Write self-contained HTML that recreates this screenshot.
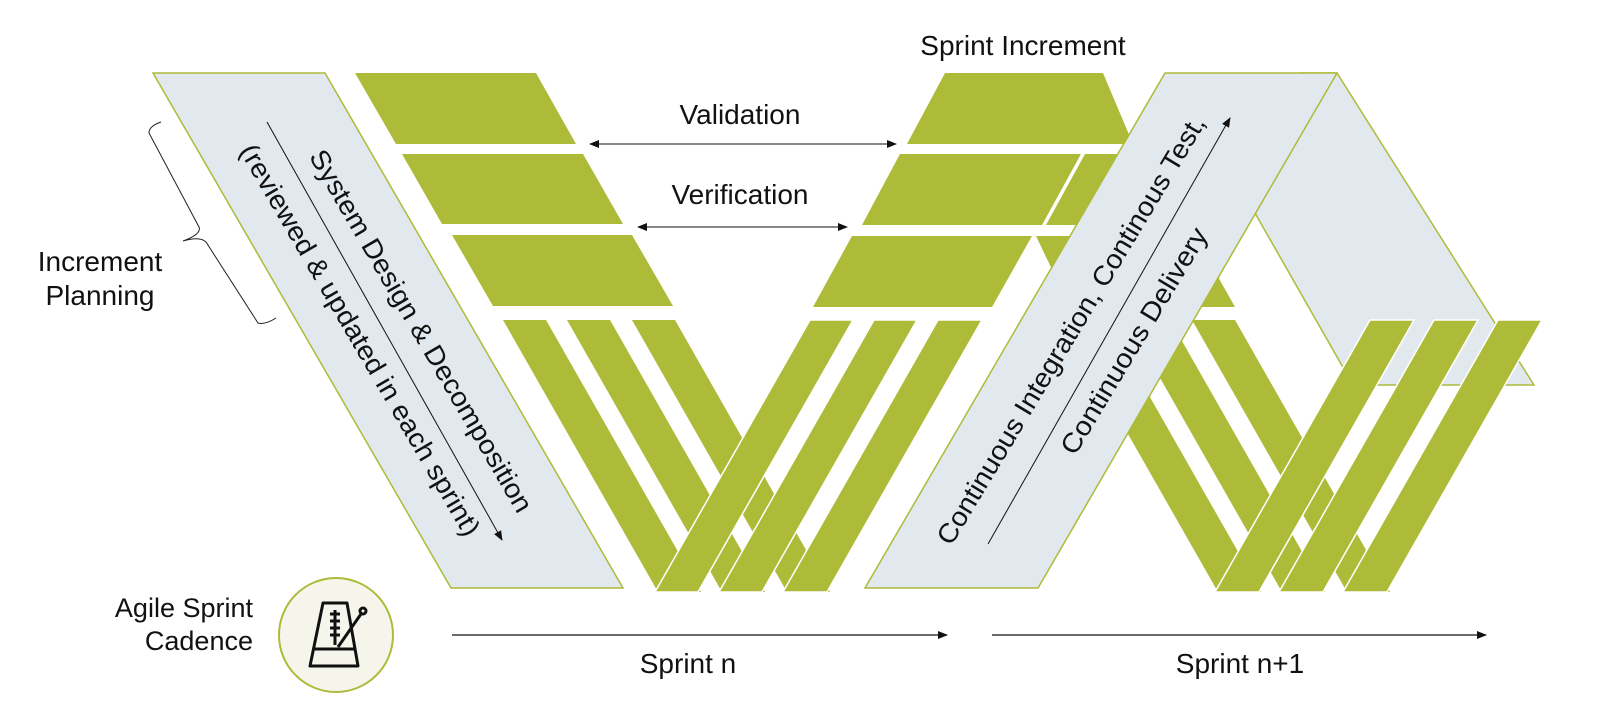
<!DOCTYPE html>
<html><head><meta charset="utf-8"><style>
html,body{margin:0;padding:0;background:#fff;}
svg{display:block;}
text{font-family:"Liberation Sans",sans-serif;fill:#111;}
</style></head><body>
<svg width="1600" height="711" viewBox="0 0 1600 711" xmlns="http://www.w3.org/2000/svg">
<defs>
<marker id="ah" markerWidth="10" markerHeight="8" refX="9" refY="4" orient="auto" markerUnits="userSpaceOnUse"><path d="M0,0 L10,4 L0,8 Z" fill="#111"/></marker>
<marker id="ahs" markerWidth="10" markerHeight="8" refX="1" refY="4" orient="auto" markerUnits="userSpaceOnUse"><path d="M10,0 L0,4 L10,8 Z" fill="#111"/></marker>
</defs>
<g fill="#adbb38">
<polygon points="355,73 536,73 576,144 396,144"/>
<polygon points="402,154 583,154 623,224 442,224"/>
<polygon points="452,235 632,235 673,306 493,306"/>
<polygon points="945,73 1103,73 1133,144 907,144"/>
<polygon points="900,154 1081,154 1042,225 862,225"/>
<polygon points="1085,154 1130,154 1120,225 1046,225"/>
<polygon points="852,236 1032,236 992,307 813,307"/>
<polygon points="1036,236 1195,236 1235,307 1070,307"/>
<polygon points="503,320 546,320 701,592 658,592"/>
<polygon points="567,320 610,320 765,592 722,592"/>
<polygon points="632,320 675,320 830,592 787,592"/>
<polygon points="1063,320 1106,320 1261,592 1218,592"/>
<polygon points="1127,320 1170,320 1325,592 1282,592"/>
<polygon points="1192,320 1235,320 1390,592 1347,592"/>
</g>
<polygon points="1300,73 1337,73 1534,385 1353,385 1255,213" fill="#e1e8ee" stroke="#adbb38" stroke-width="1.5"/>
<g fill="#adbb38" stroke="#fff" stroke-width="1.5">
<polygon points="810,320 853,320 698,592 655,592"/>
<polygon points="874,320 917,320 762,592 719,592"/>
<polygon points="938,320 982,320 827,592 783,592"/>
<polygon points="1370,320 1414,320 1259,592 1215,592"/>
<polygon points="1434,320 1478,320 1323,592 1279,592"/>
<polygon points="1498,320 1542,320 1387,592 1343,592"/>
</g>
<polygon points="153,73 325,73 623,588 451,588" fill="#e1e8ee" stroke="#adbb38" stroke-width="1.5"/>
<polygon points="1165,73 1337,73 1038,588 865,588" fill="#e1e8ee" stroke="#adbb38" stroke-width="1.5"/>
<line x1="267" y1="122" x2="502" y2="540" stroke="#111" stroke-width="1" marker-end="url(#ah)"/>
<text x="421" y="331" font-size="27" text-anchor="middle" dominant-baseline="central" transform="rotate(59.7 421 331)" textLength="415" lengthAdjust="spacingAndGlyphs">System Design &amp; Decomposition</text>
<text x="360" y="340" font-size="27" text-anchor="middle" dominant-baseline="central" transform="rotate(59.7 360 340)" textLength="449" lengthAdjust="spacingAndGlyphs">(reviewed &amp; updated in each sprint)</text>
<line x1="988" y1="544" x2="1230" y2="118" stroke="#111" stroke-width="1" marker-end="url(#ah)"/>
<text x="1071" y="330" font-size="27" text-anchor="middle" dominant-baseline="central" transform="rotate(-59 1071 330)" textLength="495" lengthAdjust="spacingAndGlyphs">Continuous Integration, Continous Test,</text>
<text x="1134" y="341" font-size="27" text-anchor="middle" dominant-baseline="central" transform="rotate(-59 1134 341)" textLength="259" lengthAdjust="spacingAndGlyphs">Continuous Delivery</text>
<text x="1023" y="55" font-size="28" text-anchor="middle">Sprint Increment</text>
<text x="740" y="124" font-size="28" text-anchor="middle">Validation</text>
<line x1="590" y1="144" x2="896" y2="144" stroke="#111" stroke-width="1" marker-start="url(#ahs)" marker-end="url(#ah)"/>
<text x="740" y="204" font-size="28" text-anchor="middle">Verification</text>
<line x1="638" y1="227" x2="847" y2="227" stroke="#111" stroke-width="1" marker-start="url(#ahs)" marker-end="url(#ah)"/>
<text x="100" y="271" font-size="28" text-anchor="middle">Increment</text>
<text x="100" y="305" font-size="28" text-anchor="middle">Planning</text>
<path d="M161,122 Q149,126 149,133 L199,227 Q202,234 183,241 Q200,236 206,242 L258,323 Q265,325 276,318" fill="none" stroke="#222" stroke-width="1"/>
<text x="253" y="617" font-size="27" text-anchor="end">Agile Sprint</text>
<text x="253" y="650" font-size="27" text-anchor="end">Cadence</text>
<circle cx="336" cy="635" r="57" fill="#f5f5eb" stroke="#adbb38" stroke-width="2"/>
<g fill="none" stroke="#111" stroke-width="3" stroke-linejoin="round">
<polygon points="323,603 347,603 358,666 310,666"/>
<line x1="313" y1="649" x2="355" y2="649"/>
<line x1="335" y1="610" x2="335" y2="645"/>
<line x1="330" y1="614" x2="340" y2="614"/>
<line x1="330" y1="621" x2="340" y2="621"/>
<line x1="330" y1="628" x2="340" y2="628"/>
<line x1="330" y1="635" x2="340" y2="635"/>
<line x1="338" y1="647" x2="361" y2="614"/>
<circle cx="363" cy="611" r="3"/>
</g>
<line x1="452" y1="635" x2="947" y2="635" stroke="#111" stroke-width="1.2" marker-end="url(#ah)"/>
<text x="688" y="673" font-size="28" text-anchor="middle">Sprint n</text>
<line x1="992" y1="635" x2="1486" y2="635" stroke="#111" stroke-width="1.2" marker-end="url(#ah)"/>
<text x="1240" y="673" font-size="28" text-anchor="middle">Sprint n+1</text>
</svg>
</body></html>
